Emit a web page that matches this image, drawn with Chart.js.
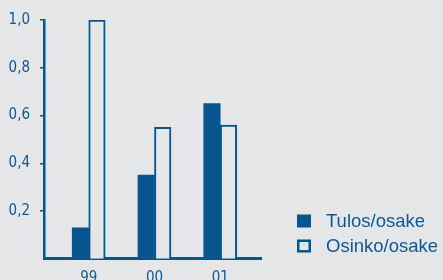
<!DOCTYPE html>
<html><head><meta charset="utf-8">
<script src="https://cdn.jsdelivr.net/npm/chart.js@4/dist/chart.umd.min.js"></script>
<style>html,body{margin:0;padding:0;background:#e5e6e8;overflow:hidden}canvas{display:block}</style>
</head><body>
<canvas id="c" width="443" height="280"></canvas>
<script>
const categories = ['99', '00', '01'];
const tulos = [0.13, 0.35, 0.65];
const osinko = [1.00, 0.55, 0.56];
const yTicks = [0.2, 0.4, 0.6, 0.8, 1.0];
const seriesNames = ['Tulos/osake', 'Osinko/osake'];

const BLUE = '#06558f';
const BG = '#e5e6e8';
const TXT = '#0f5894';

const legendPlugin = {
  id: 'customLegend',
  afterDraw(chart) {
    const ctx = chart.ctx;
    ctx.save();
    chart.data.datasets.forEach((ds, i) => {
      const y = 221 + i * 25;
      if (i === 0) {
        ctx.fillStyle = ds.backgroundColor;
        ctx.fillRect(297, y - 6.5, 14, 13);
      } else {
        ctx.strokeStyle = ds.borderColor;
        ctx.lineWidth = 2.5;
        ctx.strokeRect(298.25, y - 5.25, 11.5, 10.5);
      }
      ctx.fillStyle = TXT;
      ctx.font = '18.5px "Liberation Sans", Arial, sans-serif';
      ctx.textBaseline = 'middle';
      ctx.textAlign = 'left';
      ctx.fillText(ds.label, 326, y + 1);
    });
    ctx.restore();
  }
};

new Chart(document.getElementById('c'), {
  type: 'bar',
  data: {
    datasets: [
      { label: seriesNames[0], data: tulos.map((v, i) => ({ x: i, y: v })),
        backgroundColor: BLUE, borderWidth: 0 },
      { label: seriesNames[1], data: osinko.map((v, i) => ({ x: i, y: v })),
        backgroundColor: BG, borderColor: BLUE, borderWidth: 2 }
    ]
  },
  options: {
    responsive: false,
    animation: false,
    barThickness: 16.5,
    layout: { padding: { top: 20, right: 182, left: 0, bottom: 0 } },
    plugins: { legend: { display: false }, tooltip: { enabled: false } },
    scales: {
      x: {
        type: 'linear', min: -0.68, max: 2.62, offset: false,
        afterBuildTicks: s => { s.ticks = categories.map((c, i) => ({ value: i })); },
        afterFit: s => { s.height = 21.25; },
        ticks: { callback: v => categories[v], color: TXT, padding: 2, maxRotation: 0,
          font: { family: '"Liberation Sans Narrow", "DejaVu Sans Condensed", sans-serif', size: 15 } },
        grid: { display: false, offset: false },
        border: { display: true, color: BLUE, width: 3 }
      },
      y: {
        min: 0, max: 1.0,
        afterBuildTicks: s => { s.ticks = yTicks.map(v => ({ value: v })); },
        afterFit: s => { s.width = 44; },
        ticks: { callback: v => v.toFixed(1).replace('.', ','), color: TXT, padding: 10,
          font: { family: '"Liberation Sans Narrow", "DejaVu Sans Condensed", sans-serif', size: 15 } },
        grid: { display: true, drawOnChartArea: false, drawTicks: true, tickLength: 4, color: BLUE, lineWidth: 1.5 },
        border: { display: true, color: BLUE, width: 2.5 }
      }
    }
  },
  plugins: [legendPlugin]
});
</script>
</body></html>
